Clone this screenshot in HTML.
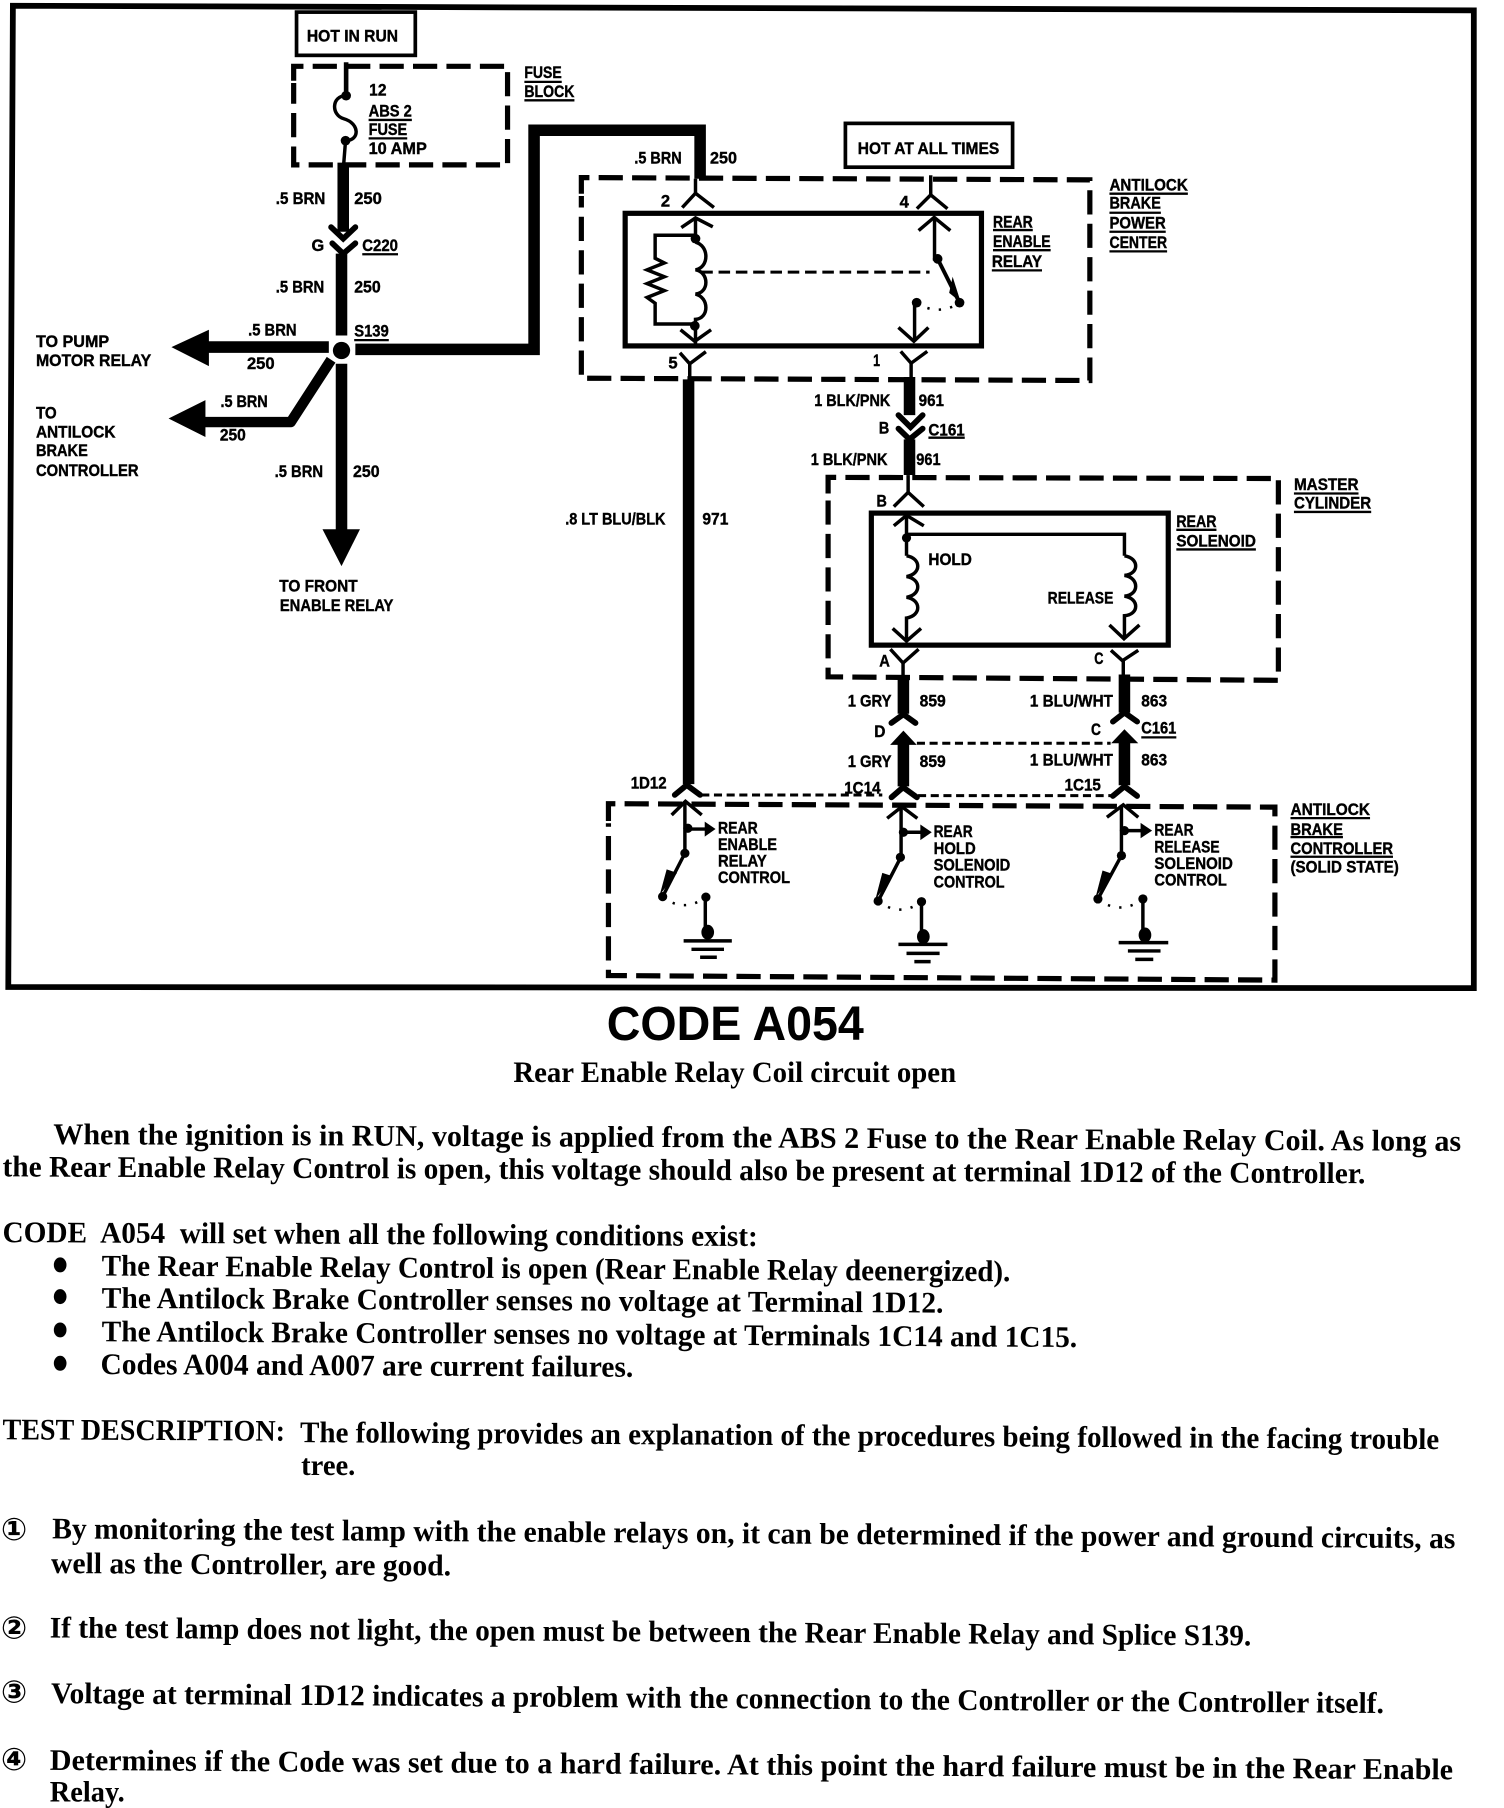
<!DOCTYPE html>
<html lang="en"><head><meta charset="utf-8"><title>CODE A054</title>
<style>
html,body{margin:0;padding:0;background:#fff}
svg{display:block}
.l text{font-family:"Liberation Sans",sans-serif;font-weight:700;font-size:14.5px;fill:#000;stroke:#000;stroke-width:.35px}
.b text{font-family:"Liberation Serif",serif;font-weight:700;font-size:26px;fill:#000}
</style></head><body>
<svg xmlns="http://www.w3.org/2000/svg" width="1504" height="1808" viewBox="0 0 1304 1568">
<rect width="1304" height="1568" fill="#fff"/>
<!-- frame -->
<path d="M7,856 L11,5 L1278,9 L1278,857 Z" fill="none" stroke="#000" stroke-width="5"/>

<!-- boxes -->
<g fill="none" stroke="#000" stroke-width="3.2">
<rect x="257" y="10.5" width="103" height="37.5"/>
<rect x="733" y="107" width="145" height="38"/>
</g>
<g fill="none" stroke="#000" stroke-width="4.5">
<rect x="542" y="185" width="309" height="115"/>
<rect x="755.5" y="445" width="257.5" height="114.5"/>
</g>
<!-- dashed enclosures -->
<g fill="none" stroke="#000" stroke-width="4.5" stroke-dasharray="21 8">
<path d="M254.5,70 V57.5 H440 V143 H254.5 V72"/>
<path d="M504,168 V154 L945,156 V330 L504,328 V170"/>
<path d="M718,428 V414 L1108.5,415 V590 L718,587 V430"/>
<path d="M527.5,712 V697 L1105.5,700 V850 L527.5,846 V714"/>
</g>
<g fill="none" stroke="#000" stroke-width="2.6" stroke-dasharray="7 4">
<path d="M608,689.5 H765"/><path d="M796,690 H964"/><path d="M795,644.6 H963"/>
<path d="M608,236 H806" stroke-dasharray="10 5"/>
</g>

<!-- thick wires -->
<g fill="none" stroke="#000" stroke-width="10">
<path d="M297.5,141 V201"/>
<path d="M296,220 V291"/>
<path d="M285,301 H178"/>
<path d="M308,303 H463 V113 H607 V155"/>
<path d="M287,312 L252,366 H176" stroke-linejoin="round" stroke-width="9"/>
<path d="M296,315.5 V462"/>
<path d="M597,329 V680"/>
<path d="M788.6,327 V360"/>
<path d="M788.6,381 V412"/>
<path d="M783.3,587 V619"/>
<path d="M975,585 V618"/>
<path d="M783.3,645 V682"/>
<path d="M975,644 V681"/>
</g>
<!-- arrowheads -->
<g fill="#000">
<path d="M148.5,301 L181,286 V317.5 Z"/>
<path d="M146,363 L178,347 V379 Z"/>
<path d="M279.5,459 H312 L296,491 Z"/>
<path d="M783.3,633.6 L771.8,646 H794.9 Z"/>
<path d="M975,632.5 L963.5,644.6 H987 Z"/>
<circle cx="296" cy="304" r="7.5"/>
</g>
<!-- thick chevrons -->
<g fill="none" stroke="#000" stroke-width="5" stroke-linecap="round" stroke-linejoin="miter">
<path d="M287,197 L297.5,207 L308,197"/>
<path d="M288,211 L297.5,220 L308,211"/>
<path d="M779,360 L789.5,370.5 L800,360"/>
<path d="M779,371.7 L788.6,381 L800,371.7"/>
<path d="M772.9,627 L783.3,619.5 L793.8,627"/>
<path d="M965,625.8 L975,618 L986,625.8"/>
<path d="M585,689.4 L595.4,680.8 L607,689.4"/>
<path d="M773,691.5 L783,682.8 L795,691.5"/>
<path d="M965,690.3 L975,682 L986,690.3"/>
</g>
<!-- thin wires and chevrons -->
<g fill="none" stroke="#000" stroke-width="3">
<path d="M300,54 V83" stroke-width="4"/>
<path d="M300,83 C287,83 287,100 298,103 C312,107 312,122 299.5,122 L298,141"/>
<path d="M603,155 V168"/><path d="M591.5,180 L603,167.6 L619,180"/>
<path d="M590.7,197.4 L603,189 L618,196.7"/><path d="M603,188 V210"/>
<path d="M603,210 C615,213 615,232 603,234 C615,236 615,254 603,255 C615,258 615,276 603,277 V300"/>
<path d="M603,204 H568 V224 L576,228 L561,234 L576,240 L561,246 L576,252 L561,258 L568,263 V281 H603"/>
<path d="M590,286 L602.4,296 L616.5,286"/>
<path d="M589.5,306 L598,315.5 L612,305"/><path d="M598,315 V329"/>

<path d="M807,152 V170"/><path d="M795,181 L807,169 L821.5,181"/>
<path d="M796.5,200 L810,188.5 L824,200"/><path d="M810.3,188 V224.5 H813"/>
<path d="M813,224.5 L832,262.5" stroke-width="3.4"/>
<path d="M793,262 V296"/><path d="M779,284 L792.4,296 L805,284"/>
<path d="M781,304.7 L790,315 L804,304.7"/><path d="M790,315 V328"/>

<path d="M787.4,412 V428"/><path d="M775,439.4 L787.4,427 L801,439.4"/>
<path d="M775,456 L786,447 L801,456"/><path d="M786,447 V482"/>
<path d="M786,463.4 H975 V482"/>
<path d="M786,482 C799,484 799,498 786,500 C799,502 799,516 786,518 C799,520 799,534 786,536 V555"/>
<path d="M774,545 L786,556 L798.6,545"/>
<path d="M975,482 C988,484 988,498 975,499 C988,501 988,516 975,517 C988,519 988,533 975,534 V553"/>
<path d="M962,542 L974.6,554 L988,542"/>
<path d="M772,563 L783,575 L796.5,563"/><path d="M783,575 V587"/>
<path d="M963.3,564 L973.3,573 L987,564"/><path d="M974,573 V585"/>

<!-- controller switches -->
<path d="M582.3,706.8 L594.3,695 L608.4,706.8"/><path d="M593.8,695 V740 L574.5,777.6"/>
<path d="M596,719 H612"/><path d="M611.5,778 V809"/>
<path d="M592.7,816 H634.5M599.5,823.3 H627.7M607,830.2 H621.5"/>

<path d="M769.2,709.7 L782,699.6 L795.4,709.7"/><path d="M781.3,699 V743 L761.4,781.4"/>
<path d="M783,721.8 H800"/><path d="M799,782 V812"/>
<path d="M779,819 H821.5M786,826.8 H814.7M792.8,834 H806.9"/>

<path d="M959.8,708.8 L974,698 L987,708.8"/><path d="M972.4,698 V742 L952,779.6"/>
<path d="M975,720.4 H991"/><path d="M991,779.6 V811"/>
<path d="M970,817.5 H1013M978,824.7 H1006.3M984.4,832 H1000"/>
</g>
<!-- dotted contact arcs -->
<g fill="none" stroke="#000" stroke-width="2.2" stroke-dasharray="2 8">
<path d="M795,263 Q813,274 832,263"/>
<path d="M574.5,778 Q593,792 612,778"/>
<path d="M761.4,781.4 Q780,796 799,782"/>
<path d="M952,780 Q971,794 991,780"/>
</g>
<!-- dots -->
<g fill="#000">
<circle cx="300" cy="83" r="4.2"/><circle cx="299.5" cy="122" r="4.2"/>
<circle cx="603" cy="207" r="4.2"/><circle cx="602.4" cy="282.6" r="4.2"/>
<circle cx="813" cy="224.5" r="4.2"/><circle cx="832" cy="262.5" r="4.2"/><circle cx="794.8" cy="262.5" r="4.2"/>
<circle cx="786" cy="466.5" r="4"/>
<path d="M823,254 L833,262 L826,240 Z"/>
<circle cx="596.4" cy="718.3" r="4"/><circle cx="593.8" cy="740" r="4"/><circle cx="574.5" cy="777.6" r="4"/><circle cx="612" cy="778" r="4"/>
<circle cx="783.3" cy="721.8" r="4"/><circle cx="780.7" cy="743.5" r="4"/><circle cx="761.4" cy="781.4" r="4"/><circle cx="799" cy="782" r="4"/>
<circle cx="975" cy="720.4" r="4"/><circle cx="972.4" cy="742" r="4"/><circle cx="952" cy="779.6" r="4"/><circle cx="991" cy="779.6" r="4"/>
<ellipse cx="613.6" cy="808.5" rx="5.5" ry="6.5"/><ellipse cx="800.6" cy="812.3" rx="5.5" ry="6.5"/><ellipse cx="992.8" cy="810.9" rx="5.5" ry="6.5"/>
<path d="M611,712.6 L620.4,719 L611,725.6 Z"/><path d="M798,715 L807.9,721.8 L798,728.6 Z"/><path d="M989,713.6 L999,720.4 L989,727 Z"/>
<path d="M572,776 L587,757 L578,754 Z"/><path d="M759,780 L774,760 L765,757 Z"/><path d="M950,778 L965,758 L956,755 Z"/>
</g>
<!-- underlines -->
<path fill="none" stroke="#000" stroke-width="2" d="M319.5,104H357M319.5,120H353M454.6,71H487M454.6,87H498M314,220.5H345M307,295H337
M861,199.5H895.5M861,217H911M860,234.5H903.5M962,168H1030M962,184.5H1006.6M962,201H1010.8M962,218H1012
M805,379.6H836.5M1020,459.5H1054.8M1020,476.5H1089M1122,428H1178M1122,444H1189M989.6,639.5H1020
M1119,709.5H1188M1119,726H1164.5M1119,743H1207.9"/>

<!-- diagram labels -->
<g class="l">
<text x="266" y="36" textLength="79" lengthAdjust="spacingAndGlyphs">HOT IN RUN</text>
<text x="743.7" y="133.6" textLength="122.7" lengthAdjust="spacingAndGlyphs">HOT AT ALL TIMES</text>
<text x="320" y="83" textLength="15" lengthAdjust="spacingAndGlyphs">12</text>
<text x="319.5" y="101" textLength="37.5" lengthAdjust="spacingAndGlyphs">ABS 2</text>
<text x="319.5" y="117" textLength="33.5" lengthAdjust="spacingAndGlyphs">FUSE</text>
<text x="319.5" y="133.6" textLength="50.5" lengthAdjust="spacingAndGlyphs">10 AMP</text>
<text x="454.6" y="67.7" textLength="32.4" lengthAdjust="spacingAndGlyphs">FUSE</text>
<text x="454.6" y="84" textLength="43.4" lengthAdjust="spacingAndGlyphs">BLOCK</text>
<text x="239" y="177" textLength="43" lengthAdjust="spacingAndGlyphs">.5 BRN</text>
<text x="307" y="177" textLength="24" lengthAdjust="spacingAndGlyphs">250</text>
<text x="270" y="217.6" textLength="11" lengthAdjust="spacingAndGlyphs">G</text>
<text x="314" y="217.6" textLength="31" lengthAdjust="spacingAndGlyphs">C220</text>
<text x="239" y="253.6" textLength="42" lengthAdjust="spacingAndGlyphs">.5 BRN</text>
<text x="307" y="253.6" textLength="23" lengthAdjust="spacingAndGlyphs">250</text>
<text x="215" y="291" textLength="42" lengthAdjust="spacingAndGlyphs">.5 BRN</text>
<text x="307" y="292" textLength="30" lengthAdjust="spacingAndGlyphs">S139</text>
<text x="31" y="301" textLength="63.5" lengthAdjust="spacingAndGlyphs">TO PUMP</text>
<text x="31" y="317.5" textLength="100" lengthAdjust="spacingAndGlyphs">MOTOR RELAY</text>
<text x="214" y="320" textLength="24" lengthAdjust="spacingAndGlyphs">250</text>
<text x="191" y="353" textLength="41" lengthAdjust="spacingAndGlyphs">.5 BRN</text>
<text x="190.5" y="382" textLength="22.5" lengthAdjust="spacingAndGlyphs">250</text>
<text x="31" y="363" textLength="18" lengthAdjust="spacingAndGlyphs">TO</text>
<text x="31" y="379.4" textLength="69" lengthAdjust="spacingAndGlyphs">ANTILOCK</text>
<text x="31" y="395.6" textLength="45" lengthAdjust="spacingAndGlyphs">BRAKE</text>
<text x="31" y="413" textLength="89" lengthAdjust="spacingAndGlyphs">CONTROLLER</text>
<text x="238" y="413.5" textLength="42" lengthAdjust="spacingAndGlyphs">.5 BRN</text>
<text x="306" y="413.5" textLength="23" lengthAdjust="spacingAndGlyphs">250</text>
<text x="242" y="513" textLength="68" lengthAdjust="spacingAndGlyphs">TO FRONT</text>
<text x="242.5" y="530" textLength="98.5" lengthAdjust="spacingAndGlyphs">ENABLE RELAY</text>
<text x="550" y="142" textLength="41" lengthAdjust="spacingAndGlyphs">.5 BRN</text>
<text x="615.6" y="142" textLength="23.4" lengthAdjust="spacingAndGlyphs">250</text>
<text x="490" y="455" textLength="87" lengthAdjust="spacingAndGlyphs">.8 LT BLU/BLK</text>
<text x="609" y="455" textLength="22.5" lengthAdjust="spacingAndGlyphs">971</text>
<text x="573" y="179" textLength="8" lengthAdjust="spacingAndGlyphs">2</text>
<text x="579.5" y="319.5" textLength="8" lengthAdjust="spacingAndGlyphs">5</text>
<text x="780" y="180" textLength="8" lengthAdjust="spacingAndGlyphs">4</text>
<text x="757" y="317.5" textLength="6" lengthAdjust="spacingAndGlyphs">1</text>
<text x="861" y="197.4" textLength="34.5" lengthAdjust="spacingAndGlyphs">REAR</text>
<text x="861" y="214" textLength="50" lengthAdjust="spacingAndGlyphs">ENABLE</text>
<text x="860" y="231.5" textLength="43.5" lengthAdjust="spacingAndGlyphs">RELAY</text>
<text x="962" y="165" textLength="68" lengthAdjust="spacingAndGlyphs">ANTILOCK</text>
<text x="962" y="181" textLength="44.6" lengthAdjust="spacingAndGlyphs">BRAKE</text>
<text x="962" y="198" textLength="48.8" lengthAdjust="spacingAndGlyphs">POWER</text>
<text x="962" y="215" textLength="50" lengthAdjust="spacingAndGlyphs">CENTER</text>
<text x="706" y="352" textLength="66" lengthAdjust="spacingAndGlyphs">1 BLK/PNK</text>
<text x="796.5" y="352" textLength="22" lengthAdjust="spacingAndGlyphs">961</text>
<text x="762" y="376" textLength="9" lengthAdjust="spacingAndGlyphs">B</text>
<text x="805" y="377.5" textLength="31.5" lengthAdjust="spacingAndGlyphs">C161</text>
<text x="703" y="403.4" textLength="66.5" lengthAdjust="spacingAndGlyphs">1 BLK/PNK</text>
<text x="794.5" y="403.4" textLength="21" lengthAdjust="spacingAndGlyphs">961</text>
<text x="760" y="439.4" textLength="9" lengthAdjust="spacingAndGlyphs">B</text>
<text x="805" y="490" textLength="37.7" lengthAdjust="spacingAndGlyphs">HOLD</text>
<text x="908.4" y="523.4" textLength="57" lengthAdjust="spacingAndGlyphs">RELEASE</text>
<text x="1020" y="457" textLength="34.8" lengthAdjust="spacingAndGlyphs">REAR</text>
<text x="1020" y="474" textLength="69" lengthAdjust="spacingAndGlyphs">SOLENOID</text>
<text x="1122" y="425" textLength="56" lengthAdjust="spacingAndGlyphs">MASTER</text>
<text x="1122" y="441" textLength="67" lengthAdjust="spacingAndGlyphs">CYLINDER</text>
<text x="762.4" y="578" textLength="9.2" lengthAdjust="spacingAndGlyphs">A</text>
<text x="948.8" y="576" textLength="8" lengthAdjust="spacingAndGlyphs">C</text>
<text x="735" y="612.8" textLength="38" lengthAdjust="spacingAndGlyphs">1 GRY</text>
<text x="797.4" y="612.8" textLength="22.6" lengthAdjust="spacingAndGlyphs">859</text>
<text x="893" y="612.8" textLength="72" lengthAdjust="spacingAndGlyphs">1 BLU/WHT</text>
<text x="989.6" y="612.8" textLength="22.4" lengthAdjust="spacingAndGlyphs">863</text>
<text x="758" y="639" textLength="9.7" lengthAdjust="spacingAndGlyphs">D</text>
<text x="946" y="637.4" textLength="8.6" lengthAdjust="spacingAndGlyphs">C</text>
<text x="989.6" y="636" textLength="30.4" lengthAdjust="spacingAndGlyphs">C161</text>
<text x="735" y="665.4" textLength="38" lengthAdjust="spacingAndGlyphs">1 GRY</text>
<text x="797.4" y="665.4" textLength="22.6" lengthAdjust="spacingAndGlyphs">859</text>
<text x="893" y="664" textLength="72" lengthAdjust="spacingAndGlyphs">1 BLU/WHT</text>
<text x="989.6" y="664" textLength="22.4" lengthAdjust="spacingAndGlyphs">863</text>
<text x="546.8" y="683.7" textLength="31.2" lengthAdjust="spacingAndGlyphs">1D12</text>
<text x="732" y="688" textLength="31.5" lengthAdjust="spacingAndGlyphs">1C14</text>
<text x="923" y="685.7" textLength="31.6" lengthAdjust="spacingAndGlyphs">1C15</text>
<text x="622.5" y="722.7" textLength="34.5" lengthAdjust="spacingAndGlyphs">REAR</text>
<text x="622.5" y="737.1" textLength="51.2" lengthAdjust="spacingAndGlyphs">ENABLE</text>
<text x="622.5" y="751.6" textLength="42.3" lengthAdjust="spacingAndGlyphs">RELAY</text>
<text x="622.5" y="766" textLength="62.5" lengthAdjust="spacingAndGlyphs">CONTROL</text>
<text x="809.5" y="726" textLength="33.9" lengthAdjust="spacingAndGlyphs">REAR</text>
<text x="809.5" y="740.6" textLength="36.5" lengthAdjust="spacingAndGlyphs">HOLD</text>
<text x="809.5" y="755" textLength="66.5" lengthAdjust="spacingAndGlyphs">SOLENOID</text>
<text x="809.5" y="769.5" textLength="61.5" lengthAdjust="spacingAndGlyphs">CONTROL</text>
<text x="1001" y="724.7" textLength="34" lengthAdjust="spacingAndGlyphs">REAR</text>
<text x="1001" y="739.2" textLength="56.5" lengthAdjust="spacingAndGlyphs">RELEASE</text>
<text x="1001" y="753.6" textLength="68" lengthAdjust="spacingAndGlyphs">SOLENOID</text>
<text x="1001" y="768" textLength="62.8" lengthAdjust="spacingAndGlyphs">CONTROL</text>
<text x="1119" y="706.8" textLength="69" lengthAdjust="spacingAndGlyphs">ANTILOCK</text>
<text x="1119" y="724" textLength="45.5" lengthAdjust="spacingAndGlyphs">BRAKE</text>
<text x="1119" y="740.6" textLength="88.9" lengthAdjust="spacingAndGlyphs">CONTROLLER</text>
<text x="1119" y="756.8" textLength="94" lengthAdjust="spacingAndGlyphs">(SOLID STATE)</text>
</g>

<!-- heading -->
<text x="526" y="902" textLength="223" lengthAdjust="spacingAndGlyphs" style="font-family:'Liberation Sans',sans-serif;font-weight:700;font-size:42px" fill="#000">CODE A054</text>

<!-- body -->
<g class="b" transform="translate(0,1.2)">
<text x="445" y="937" textLength="384" lengthAdjust="spacingAndGlyphs">Rear Enable Relay Coil circuit open</text>
<text x="46" y="991" transform="rotate(.28 46 991)" textLength="1221" lengthAdjust="spacingAndGlyphs">When the ignition is in RUN, voltage is applied from the ABS 2 Fuse to the Rear Enable Relay Coil. As long as</text>
<text x="2" y="1019" transform="rotate(.29 2 1019)" textLength="1182" lengthAdjust="spacingAndGlyphs">the Rear Enable Relay Control is open, this voltage should also be present at terminal 1D12 of the Controller.</text>
<text x="2" y="1076" transform="rotate(.3 2 1076)" textLength="655" lengthAdjust="spacingAndGlyphs">CODE&#160; A054&#160; will set when all the following conditions exist:</text>
<text x="88" y="1105" transform="rotate(.36 89 1105)" textLength="788" lengthAdjust="spacingAndGlyphs">The Rear Enable Relay Control is open (Rear Enable Relay deenergized).</text>
<text x="88" y="1133" transform="rotate(.33 89 1133)" textLength="730" lengthAdjust="spacingAndGlyphs">The Antilock Brake Controller senses no voltage at Terminal 1D12.</text>
<text x="88" y="1162" transform="rotate(.34 89 1162)" textLength="846" lengthAdjust="spacingAndGlyphs">The Antilock Brake Controller senses no voltage at Terminals 1C14 and 1C15.</text>
<text x="87" y="1190.4" transform="rotate(.3 87 1190)" textLength="462" lengthAdjust="spacingAndGlyphs">Codes A004 and A007 are current failures.</text>
<text x="2" y="1247" transform="rotate(.3 2 1247)" textLength="245" lengthAdjust="spacingAndGlyphs">TEST DESCRIPTION:</text>
<text x="260" y="1249.5" transform="rotate(.35 262 1249)" textLength="988" lengthAdjust="spacingAndGlyphs">The following provides an explanation of the procedures being followed in the facing trouble</text>
<text x="261" y="1277.8" textLength="47" lengthAdjust="spacingAndGlyphs">tree.</text>
<text x="45" y="1333" transform="rotate(.4 46 1333)" textLength="1217" lengthAdjust="spacingAndGlyphs">By monitoring the test lamp with the enable relays on, it can be determined if the power and ground circuits, as</text>
<text x="44" y="1363" transform="rotate(.35 46 1364)" textLength="347" lengthAdjust="spacingAndGlyphs">well as the Controller, are good.</text>
<text x="43" y="1418.9" transform="rotate(.38 43 1419)" textLength="1042" lengthAdjust="spacingAndGlyphs">If the test lamp does not light, the open must be between the Rear Enable Relay and Splice S139.</text>
<text x="44" y="1475.8" transform="rotate(.43 46 1476)" textLength="1156" lengthAdjust="spacingAndGlyphs">Voltage at terminal 1D12 indicates a problem with the connection to the Controller or the Controller itself.</text>
<text x="43" y="1533.7" transform="rotate(.39 43 1534)" textLength="1217" lengthAdjust="spacingAndGlyphs">Determines if the Code was set due to a hard failure. At this point the hard failure must be in the Rear Enable</text>
<text x="43" y="1561" textLength="65" lengthAdjust="spacingAndGlyphs">Relay.</text>
</g>
<!-- bullets -->
<g fill="#000">
<ellipse cx="52" cy="1097" rx="5.5" ry="6.5"/><ellipse cx="52" cy="1124.5" rx="5.5" ry="6.5"/><ellipse cx="52" cy="1153.4" rx="5.5" ry="6.5"/><ellipse cx="52" cy="1182.3" rx="5.5" ry="6.5"/>
</g>
<!-- circled numbers -->
<g style="font-family:'DejaVu Sans',sans-serif;font-weight:700;font-size:27px" fill="#000" text-anchor="middle">
<text x="12" y="1335.5">①</text>
<text x="12" y="1421">②</text>
<text x="12" y="1476.5">③</text>
<text x="12" y="1535">④</text>
</g>
</svg>
</body></html>
